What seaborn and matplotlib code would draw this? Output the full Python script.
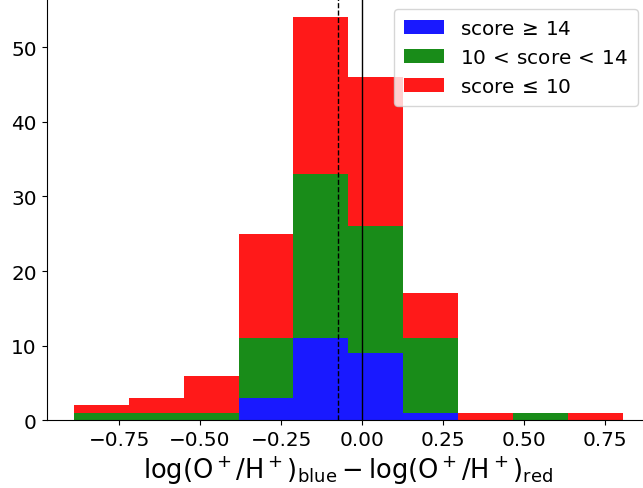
import numpy as np
import pandas as pd
import seaborn as sns
from matplotlib import pyplot as plt
from matplotlib.patches import Patch

# bin edges of the histogram (10 equal bins)
bin_edges = [-0.889, -0.7197, -0.5504, -0.3811, -0.2118, -0.0425,
             0.1268, 0.2961, 0.4654, 0.6347, 0.804]

# counts per bin for each score group
counts_high = [0, 0, 0, 3, 11, 9, 1, 0, 0, 0]    # score >= 14
counts_mid = [1, 1, 1, 8, 22, 17, 10, 0, 1, 0]   # 10 < score < 14
counts_low = [1, 2, 5, 14, 21, 20, 6, 1, 0, 1]   # score <= 10

labels = [r"score$\,\geq\,$14", r"10$\,<\,$score$\,<\,$14", r"score$\,\leq\,$10"]
colors = ["blue", "green", "red"]

median_offset = -0.074

# %%
centers = [(a + b) / 2 for a, b in zip(bin_edges[:-1], bin_edges[1:])]
df = pd.concat(
    [
        pd.DataFrame({"x": centers, "w": c, "group": lab})
        for c, lab in zip([counts_high, counts_mid, counts_low], labels)
    ],
    ignore_index=True,
)

fs = 14.4
fig = plt.figure(figsize=(6.43, 4.89), dpi=100)
ax = fig.add_axes([0.0725, 0.1384, 0.9385, 0.8655])

# seaborn stacks the last hue level at the bottom -> reverse order
sns.histplot(
    data=df,
    x="x",
    weights="w",
    hue="group",
    hue_order=labels[::-1],
    palette=dict(zip(labels, colors)),
    bins=bin_edges,
    multiple="stack",
    alpha=0.9,
    linewidth=0,
    legend=False,
    ax=ax,
)

ax.axvline(0, color="k", lw=1)
ax.axvline(median_offset, color="k", ls="--", lw=1)

ax.set_xlabel(
    r"$\log(\mathrm{O}^+/\mathrm{H}^+)_{\mathrm{blue}} - \log(\mathrm{O}^+/\mathrm{H}^+)_{\mathrm{red}}$",
    fontsize=18.5,
    labelpad=3,
)
ax.set_ylabel("")
ax.set_xticks([-0.75, -0.5, -0.25, 0.0, 0.25, 0.5, 0.75])
ax.set_yticks([0, 10, 20, 30, 40, 50])
ax.tick_params(labelsize=fs)

handles = [Patch(facecolor=c, alpha=0.9, label=l) for c, l in zip(colors, labels)]
ax.legend(handles=handles, loc="upper right", fontsize=fs, borderpad=0.5,
          borderaxespad=0.6)

plt.savefig("out.png", dpi=100)
